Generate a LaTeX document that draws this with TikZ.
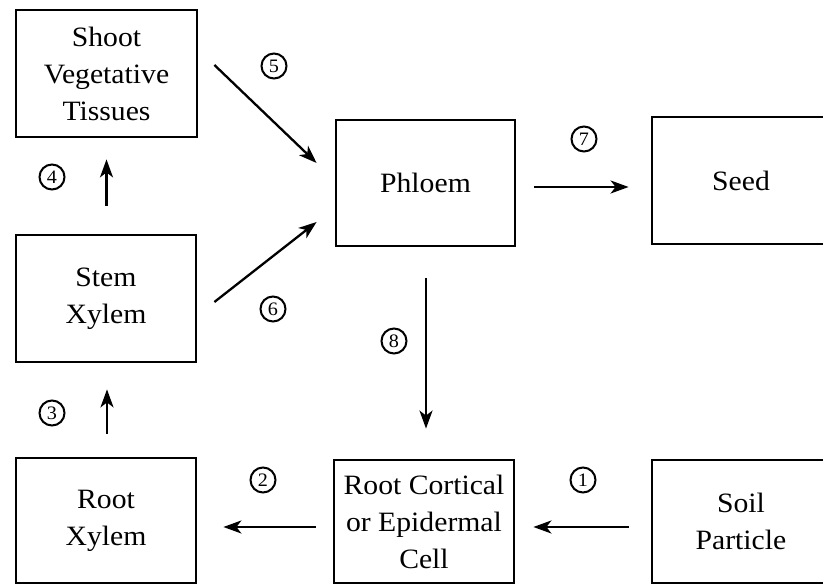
\documentclass[tikz,border=0pt]{standalone}
\usepackage{fontspec}
\setmainfont{Liberation Serif}[FakeStretch=1.06]
\usetikzlibrary{arrows.meta}
\tikzset{
  box/.style={draw, line width=2.8pt, minimum width=180pt, minimum height=126pt,
    inner sep=0pt, align=center, font=\fontsize{28}{37}\selectfont},
  num/.style={draw, circle, line width=2pt, minimum size=25pt, inner sep=0pt,
    font=\fontsize{19}{19}\selectfont},
  flow/.style={line width=2.3pt, -{Stealth[length=18pt,width=13pt,inset=5pt]}}
}
\begin{document}
\begin{tikzpicture}[x=1pt,y=1pt]
\useasboundingbox (0,0) rectangle (823,586);
\fill[white] (0,0) rectangle (823,586);
\clip (0,0) rectangle (823,586);
% boxes
\node[box, minimum width=181pt, minimum height=127pt] (shoot) at (106.5,512.5) {Shoot\\Vegetative\\Tissues};
\node[box, minimum height=127pt] (stem) at (106,287.5) {Stem\\Xylem};
\node[box, minimum height=125pt] (rootx) at (106,65.5) {Root\\Xylem};
\node[box, minimum width=179pt] (phloem) at (425.5,403) {Phloem};
\node[box, minimum width=178pt, minimum height=127pt] (seed) at (741,405.5) {Seed};
\node[box, minimum height=123pt] (cortical) at (424,64.5) {Root Cortical\\or Epidermal\\Cell};
\node[box, minimum width=178pt, minimum height=123pt] (soil) at (741,64.5) {Soil\\Particle};
% arrows
\draw[flow] ([xshift=-22pt,yshift=-5.5pt]soil.west) -- ([xshift=18pt,yshift=-5.5pt]cortical.east);
\draw[flow] ([xshift=-17pt,yshift=-5.5pt]cortical.west) -- ([xshift=26pt,yshift=-6.5pt]rootx.east);
\draw[flow] ([xshift=1pt,yshift=23pt]rootx.north) -- ([xshift=1pt,yshift=-26pt]stem.south);
\draw[flow] ([xshift=0.5pt,yshift=28pt]stem.north) -- ([yshift=-21pt]shoot.south);
\draw[flow] ([xshift=16pt,yshift=8.5pt]shoot.east) -- ([xshift=-18pt,yshift=20pt]phloem.west);
\draw[flow] ([xshift=17pt,yshift=-3.5pt]stem.east) -- ([xshift=-18pt,yshift=-39pt]phloem.west);
\draw[flow] ([xshift=18pt,yshift=-4pt]phloem.east) -- ([xshift=-22pt,yshift=-6.5pt]seed.west);
\draw[flow] ([xshift=0.5pt,yshift=-31pt]phloem.south) -- ([xshift=2pt,yshift=30pt]cortical.north);
% circled numbers
\node[num] (n1) at (583,106) {1};
\node[num] (n2) at (263,106) {2};
\node[num] (n3) at (52,173) {3};
\node[num] (n4) at (52,409) {4};
\node[num] (n5) at (274,520) {5};
\node[num] (n6) at (273,277) {6};
\node[num] (n7) at (584,447) {7};
\node[num] (n8) at (394,245) {8};
\end{tikzpicture}
\end{document}
